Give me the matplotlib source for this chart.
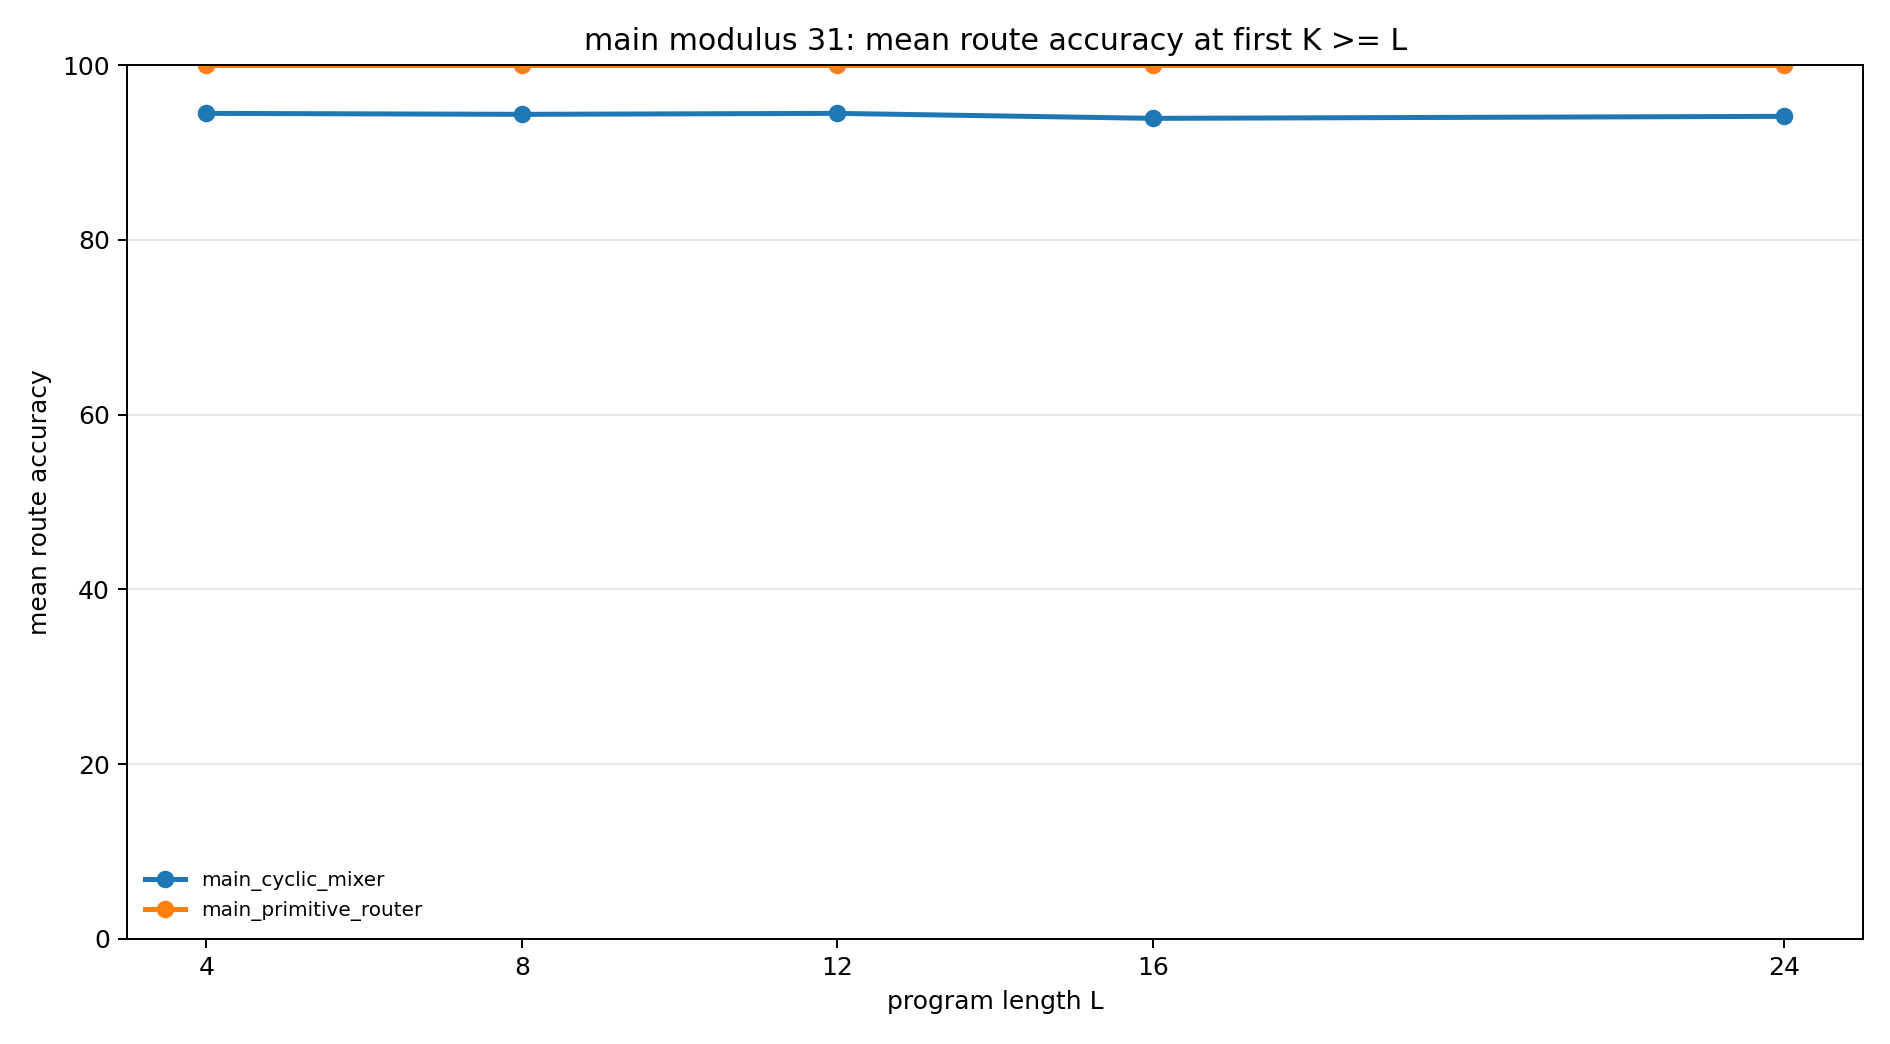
import matplotlib
matplotlib.use('Agg')
import matplotlib.pyplot as plt

lengths = [4, 8, 12, 16, 24]
cyclic_mixer = [94.47, 94.36, 94.47, 93.90, 94.13]
primitive_router = [100.0, 100.0, 100.0, 100.0, 100.0]

fig = plt.figure(figsize=[10.5, 5.8], dpi=180)
ax = fig.add_subplot(111)
fig.subplots_adjust(left=0.0674, right=0.9856, top=0.9377, bottom=0.1006)

ax.plot(lengths, cyclic_mixer, marker='o', linewidth=2, label='main_cyclic_mixer')
ax.plot(lengths, primitive_router, marker='o', linewidth=2, label='main_primitive_router')

ax.set_ylim(0, 100)
ax.set_xticks(lengths)
ax.grid(axis='y', alpha=0.3)
ax.set_xlabel('program length L')
ax.set_ylabel('mean route accuracy')
ax.set_title('main modulus 31: mean route accuracy at first K >= L')
ax.legend(loc='lower left', fontsize=8, frameon=False)

fig.savefig('out.png', dpi=180)
